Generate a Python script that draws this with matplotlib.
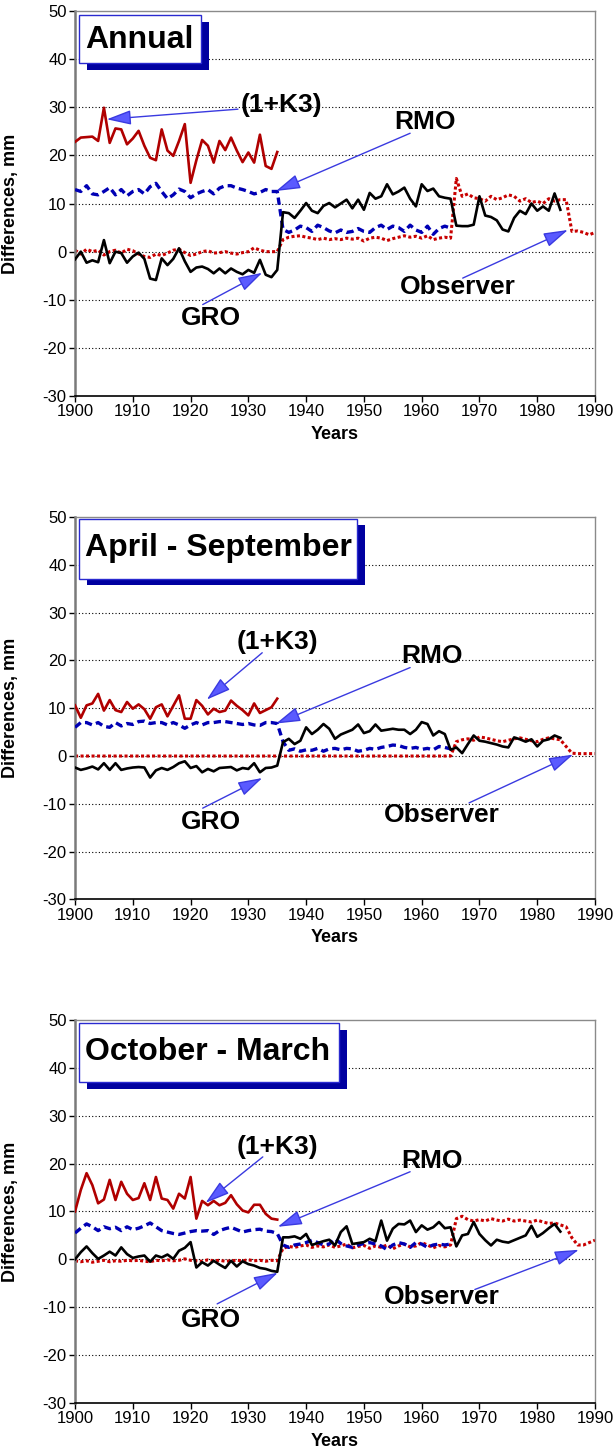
import numpy as np
import matplotlib
matplotlib.use('Agg')
import matplotlib.pyplot as plt
from matplotlib.patches import Rectangle

# ----------------- data (mm), one value per year from 1900 -----------------

# Annual
ANN_K3 = [22.8, 23.7, 23.8, 23.9, 23.0, 29.9, 22.6, 25.6, 25.4, 22.3,
          23.5, 25.1, 22.0, 19.5, 19.0, 25.4, 21.0, 19.9, 23.0, 26.5,
          14.3, 19.0, 23.2, 22.0, 18.5, 23.0, 21.1, 23.7, 21.0, 18.6,
          20.6, 18.5, 24.3, 17.8, 17.2, 20.7]
ANN_RMO = [12.9, 12.5, 13.7, 12.0, 11.8, 12.5, 13.3, 11.8, 12.9, 11.6,
           12.5, 12.9, 12.0, 13.5, 14.2, 12.5, 11.0, 11.8, 13.0, 12.5,
           11.2, 12.0, 12.5, 12.9, 12.0, 13.2, 13.7, 13.7, 13.2, 12.9,
           12.5, 12.0, 12.3, 12.9, 12.5, 12.5, 4.6, 4.0, 4.5, 5.3,
           5.0, 4.2, 5.5, 5.0, 4.3, 3.9, 4.5, 4.0, 4.2, 4.8,
           4.2, 4.0, 5.0, 5.5, 4.6, 5.3, 5.0, 4.2, 5.5, 4.5,
           4.0, 5.3, 3.6, 4.8, 5.3, 4.9]
ANN_GRO = [-1.6, 0.0, -2.3, -1.8, -2.2, 2.4, -2.4, 0.0, -0.3, -2.3,
           -1.0, -0.2, -1.5, -5.6, -5.9, -1.4, -2.8, -1.5, 0.7, -2.0,
           -4.2, -3.3, -3.1, -3.6, -4.5, -3.5, -4.5, -3.5, -4.2, -4.7,
           -3.8, -4.4, -1.7, -4.8, -5.3, -3.8, 8.2, 8.0, 7.0, 8.5,
           10.1, 8.5, 8.0, 9.5, 10.1, 9.2, 10.0, 10.8, 9.0, 10.8,
           8.7, 12.2, 11.0, 11.5, 14.0, 11.9, 12.5, 13.3, 11.0, 9.4,
           14.0, 12.6, 13.1, 11.5, 11.2, 11.0, 5.4, 5.3, 5.3, 5.6,
           11.5, 7.5, 7.2, 6.5, 4.6, 4.2, 7.0, 8.5, 7.8, 10.0,
           8.5, 9.4, 8.5, 12.1, 8.7]
ANN_OBS = [0.3, -0.5, 0.5, 0.0, 0.3, -0.7, 0.0, 0.3, -0.3, 0.5,
           0.2, -0.5, -1.0, -1.2, -0.5, -0.8, -0.3, 0.3, 0.5, -0.2,
           -0.8, -0.5, 0.0, 0.2, -0.3, -0.2, 0.0, -0.3, -0.5, -0.2,
           0.0, 0.8, 0.3, 0.0, 0.0, 0.0, 2.5, 3.0, 3.2, 3.3,
           3.0, 2.8, 2.5, 2.8, 2.5, 2.7, 2.5, 2.8, 2.6, 2.8,
           2.2, 2.8, 3.0, 2.8, 2.3, 2.7, 3.0, 3.3, 3.0, 3.2,
           2.8, 3.3, 2.5, 2.8, 3.0, 2.8, 15.2, 11.5, 12.0, 11.2,
           11.0, 10.5, 11.5, 10.8, 11.2, 11.8, 11.5, 10.5, 11.0, 10.2,
           10.5, 10.0, 11.0, 10.5, 10.8, 10.8, 4.2, 4.3, 4.0, 3.5,
           4.0]

# April - September
AS_K3 = [10.6, 8.0, 10.6, 11.0, 13.0, 9.5, 11.7, 9.6, 9.2, 11.3,
         9.9, 10.8, 9.8, 7.8, 10.2, 10.8, 8.3, 10.5, 12.7, 7.8,
         7.8, 11.7, 10.5, 8.7, 9.9, 9.2, 9.5, 11.6, 10.5, 9.6,
         8.5, 11.0, 9.0, 9.6, 10.2, 12.0]
AS_RMO = [6.0, 7.0, 7.0, 6.5, 7.0, 6.2, 6.0, 7.0, 6.3, 6.8,
          6.6, 7.2, 7.3, 6.8, 7.0, 7.0, 6.5, 7.0, 6.5, 5.8,
          6.5, 7.0, 6.5, 7.0, 7.0, 7.2, 7.2, 7.0, 6.8, 6.6,
          6.8, 6.5, 6.4, 7.0, 7.0, 6.8, 3.0, 1.2, 1.5, 1.0,
          1.3, 1.2, 1.6, 1.0, 1.5, 1.6, 1.3, 1.6, 1.5, 1.0,
          1.2, 1.6, 1.4, 1.8, 2.0, 2.3, 2.2, 1.8, 1.6, 1.8,
          1.4, 1.6, 1.3, 2.0, 1.8, 1.5]
AS_GRO = [-2.4, -2.9, -2.6, -2.2, -2.8, -1.5, -2.9, -1.5, -2.9, -2.6,
          -2.4, -2.3, -2.4, -4.5, -3.0, -2.5, -2.9, -2.3, -1.5, -1.1,
          -2.5, -2.1, -3.4, -2.7, -3.2, -2.5, -2.4, -2.3, -3.0, -2.5,
          -2.7, -1.5, -3.4, -2.5, -2.4, -2.0, 2.9, 3.6, 2.5, 3.2,
          6.0, 4.6, 5.5, 6.7, 5.7, 3.6, 4.5, 5.0, 5.5, 6.6,
          4.8, 5.2, 6.6, 5.3, 5.5, 5.7, 5.5, 5.5, 4.6, 5.5,
          7.1, 6.7, 4.3, 5.2, 4.6, 1.3, 1.8, 0.6, 2.5, 4.3,
          3.2, 3.0, 2.7, 2.4, 2.0, 1.8, 3.9, 3.5, 3.0, 3.5,
          2.0, 3.2, 3.5, 4.3, 3.8]
AS_OBS = [0.0, 0.0, 0.0, 0.0, 0.0, 0.0, 0.0, 0.0, 0.0, 0.0,
          0.0, 0.0, 0.0, 0.0, 0.0, 0.0, 0.0, 0.0, 0.0, 0.0,
          0.0, 0.0, 0.0, 0.0, 0.0, 0.0, 0.0, 0.0, 0.0, 0.0,
          0.0, 0.0, 0.0, 0.0, 0.0, 0.0, 0.0, 0.0, 0.0, 0.0,
          0.0, 0.0, 0.0, 0.0, 0.0, 0.0, 0.0, 0.0, 0.0, 0.0,
          0.0, 0.0, 0.0, 0.0, 0.0, 0.0, 0.0, 0.0, 0.0, 0.0,
          0.0, 0.0, 0.0, 0.0, 0.0, 0.0, 3.0, 3.4, 3.6, 3.3,
          4.0, 3.8, 3.5, 3.2, 3.0, 3.3, 3.6, 3.8, 3.5, 3.2,
          3.0, 3.5, 3.8, 3.6, 3.4, 2.0, 0.6, 0.5, 0.5, 0.5,
          0.5]

# October - March
OM_K3 = [10.0, 14.5, 18.0, 15.5, 11.7, 12.5, 16.6, 12.4, 16.2, 13.7,
         12.4, 12.8, 15.9, 12.4, 17.2, 12.7, 12.4, 10.6, 13.7, 12.7,
         17.2, 8.5, 12.2, 11.3, 12.2, 11.3, 11.8, 13.4, 11.5, 10.2,
         9.8, 11.4, 11.4, 9.5, 8.5, 8.3]
OM_RMO = [5.5, 6.5, 7.4, 6.8, 6.0, 6.8, 6.4, 6.7, 6.0, 6.8,
          6.2, 6.5, 7.0, 7.6, 6.8, 6.0, 5.7, 5.4, 5.2, 5.5,
          5.8, 6.0, 5.9, 6.0, 5.2, 6.0, 6.4, 6.7, 6.2, 5.7,
          6.0, 6.2, 6.3, 5.9, 5.8, 5.4, 3.0, 2.5, 3.0, 3.2,
          3.5, 4.0, 3.5, 3.0, 3.2, 4.3, 3.3, 2.8, 2.5, 3.0,
          3.3, 3.5, 3.2, 2.8, 2.0, 3.0, 3.5, 3.2, 2.5, 3.5,
          3.2, 2.5, 3.0, 3.2, 3.0, 3.2]
OM_GRO = [0.0, 1.5, 2.7, 1.3, 0.1, 0.8, 1.6, 0.8, 2.5, 1.1,
          0.3, 0.6, 0.8, -0.5, 0.8, 0.4, 1.0, 0.1, 1.8, 2.4,
          3.6, -1.7, -0.6, -1.3, -0.3, -1.1, -1.8, -0.3, -1.5, -0.4,
          -1.0, -1.3, -1.8, -2.0, -2.4, -2.6, 4.6, 4.6, 4.8, 4.3,
          5.3, 3.0, 3.4, 3.8, 4.1, 2.9, 5.7, 6.9, 3.2, 3.4,
          3.6, 4.3, 3.8, 8.1, 3.9, 6.4, 7.4, 7.3, 8.1, 5.7,
          7.1, 6.2, 6.7, 7.8, 6.5, 6.7, 2.7, 5.0, 5.3, 7.8,
          5.3, 4.0, 2.9, 4.1, 3.7, 3.5, 4.0, 4.5, 5.0, 7.0,
          4.7, 5.5, 6.5, 7.4, 5.8]
OM_OBS = [-0.3, -0.5, -0.3, -0.6, -0.4, -0.2, -0.5, -0.3, -0.4, -0.2,
          -0.3, -0.2, -0.4, -0.5, -0.2, -0.3, -0.1, -0.3, -0.2, 0.1,
          -0.2, -0.3, -0.4, -0.1, -0.3, -0.2, -0.4, -0.3, -0.2, -0.3,
          -0.1, -0.3, -0.2, -0.4, -0.2, -0.3, 2.3, 2.7, 2.5, 2.8,
          3.0, 2.5, 2.8, 2.6, 3.0, 2.5, 2.8, 3.2, 2.4, 2.7,
          2.9, 2.3, 2.8, 2.5, 3.0, 2.2, 2.8, 3.2, 2.6, 2.8,
          3.5, 3.0, 2.4, 2.9, 2.6, 3.0, 8.5, 9.0, 8.3, 8.0,
          8.3, 8.0, 8.5, 8.2, 8.0, 8.4, 8.0, 8.2, 8.0, 7.8,
          8.2, 7.8, 7.5, 7.6, 7.2, 6.8, 4.5, 3.0, 3.0, 3.5,
          4.0]

TITLES = ["Annual", "April - September", "October - March"]
LABELS = ["(1+K3)", "RMO", "GRO", "Observer"]

# ----------------- layout (not data) -----------------
# axes rectangles in figure fractions
AXES_POS = [[0.122, 0.7265, 0.8455, 0.2659],
            [0.122, 0.3788, 0.8455, 0.2642],
            [0.122, 0.0311, 0.8455, 0.2645]]
# title boxes in axes fractions: (x0, x1, y0, y1), shadow same
BOXES = [(0.0077, 0.242, 0.865, 0.9896),
         (0.0077, 0.542, 0.838, 0.995),
         (0.0077, 0.5077, 0.838, 0.992)]
SHADOW_DX, SHADOW_DY = 0.0155, -0.017
TITLE_BASE = [0.903, 0.897, 0.8956]
# label text centre, arrow start, arrow tip (data coords), per label
NOTES = [
    [((1935.8, 30.5), (1928.2, 29.6), (1905.5, 27.5)),
     ((1960.5, 26.9), (1958.0, 24.6), (1934.8, 12.6)),
     ((1923.5, -13.8), (1922.1, -11.0), (1932.4, -4.4)),
     ((1966.3, -7.4), (1967.1, -5.5), (1985.3, 4.5))],
    [((1935.1, 23.9), (1932.4, 21.6), (1922.8, 11.8)),
     ((1961.8, 21.0), (1958.0, 18.5), (1934.8, 6.8)),
     ((1923.5, -13.8), (1922.1, -10.9), (1932.4, -4.6)),
     ((1963.5, -12.4), (1968.2, -9.8), (1986.2, 0.3))],
    [((1935.1, 23.5), (1932.5, 21.4), (1922.6, 11.8)),
     ((1961.8, 20.6), (1958.0, 18.3), (1935.1, 6.8)),
     ((1923.5, -12.6), (1924.6, -9.3), (1935.1, -2.8)),
     ((1963.5, -7.8), (1969.2, -6.3), (1987.2, 2.0))],
]


def years(values):
    return np.arange(1900, 1900 + len(values))


def draw_panel(ax, i, k3, rmo, gro, obs):
    ax.set_xlim(1900, 1990)
    ax.set_ylim(-30, 50)
    ax.set_xticks(range(1900, 1991, 10))
    ax.set_yticks(range(-30, 51, 10))
    ax.tick_params(direction='out', length=4, width=1, labelsize=12, pad=2)

    for v in range(-20, 41, 10):
        ax.axhline(v, color='black', lw=0.8, ls=(0, (1, 2)), zorder=1)

    # series
    ax.plot(years(obs), obs, color='#c80000', lw=2.2, ls=(0, (1, 0.8)), zorder=2)
    ax.plot(years(rmo), rmo, color='#0000b4', lw=2.4, ls=(0, (2.2, 1.3)), zorder=3)
    ax.plot(years(gro), gro, color='black', lw=1.9, zorder=4)
    ax.plot(years(k3), k3, color='#b00000', lw=1.9, zorder=4)

    # spines
    ax.spines['left'].set_color('#7a7a7a')
    ax.spines['left'].set_linewidth(1.8)
    ax.spines['bottom'].set_color('black')
    ax.spines['bottom'].set_linewidth(1.2)
    for s in ('top', 'right'):
        ax.spines[s].set_color('#8a8a8a')
        ax.spines[s].set_linewidth(1.0)

    ax.set_xlabel("Years", fontsize=13, fontweight='bold')
    ax.set_ylabel("Differences, mm", fontsize=13, fontweight='bold')
    ax.xaxis.set_label_coords(0.5, -0.078)
    ax.yaxis.set_label_coords(-0.108, 0.5)

    # title box with shadow
    x0, x1, y0, y1 = BOXES[i]
    ax.add_patch(Rectangle((x0 + SHADOW_DX, y0 + SHADOW_DY), x1 - x0, y1 - y0,
                           transform=ax.transAxes, fc='#0000a0', ec='none',
                           zorder=6, clip_on=False))
    ax.add_patch(Rectangle((x0, y0), x1 - x0, y1 - y0, transform=ax.transAxes,
                           fc='white', ec='#2a2ad0', lw=1, zorder=7, clip_on=False))
    ax.text(x0 + 0.011, TITLE_BASE[i], TITLES[i], transform=ax.transAxes,
            fontsize=23, fontweight='bold', va='baseline', ha='left', zorder=8)

    # labels with arrows
    for label, (txt, start, tip) in zip(LABELS, NOTES[i]):
        ax.text(txt[0], txt[1], label, fontsize=19, fontweight='bold',
                ha='center', va='center', zorder=9)
        ax.annotate('', xy=tip, xytext=start,
                    arrowprops=dict(arrowstyle='-|>,head_length=1.5,head_width=0.45',
                                    fc='#5a5aff', ec='#3a3ae0', lw=1,
                                    shrinkA=0, shrinkB=0, mutation_scale=10),
                    zorder=9)


def main():
    plt.rcParams['font.family'] = ['Liberation Sans', 'DejaVu Sans']
    plt.rcParams['axes.unicode_minus'] = False

    fig = plt.figure(figsize=(6.15, 14.48), dpi=100)
    series = [(ANN_K3, ANN_RMO, ANN_GRO, ANN_OBS),
              (AS_K3, AS_RMO, AS_GRO, AS_OBS),
              (OM_K3, OM_RMO, OM_GRO, OM_OBS)]
    for i, (k3, rmo, gro, obs) in enumerate(series):
        ax = fig.add_axes(AXES_POS[i])
        draw_panel(ax, i, k3, rmo, gro, obs)

    fig.savefig("out.png", dpi=100)


if __name__ == "__main__":
    main()
